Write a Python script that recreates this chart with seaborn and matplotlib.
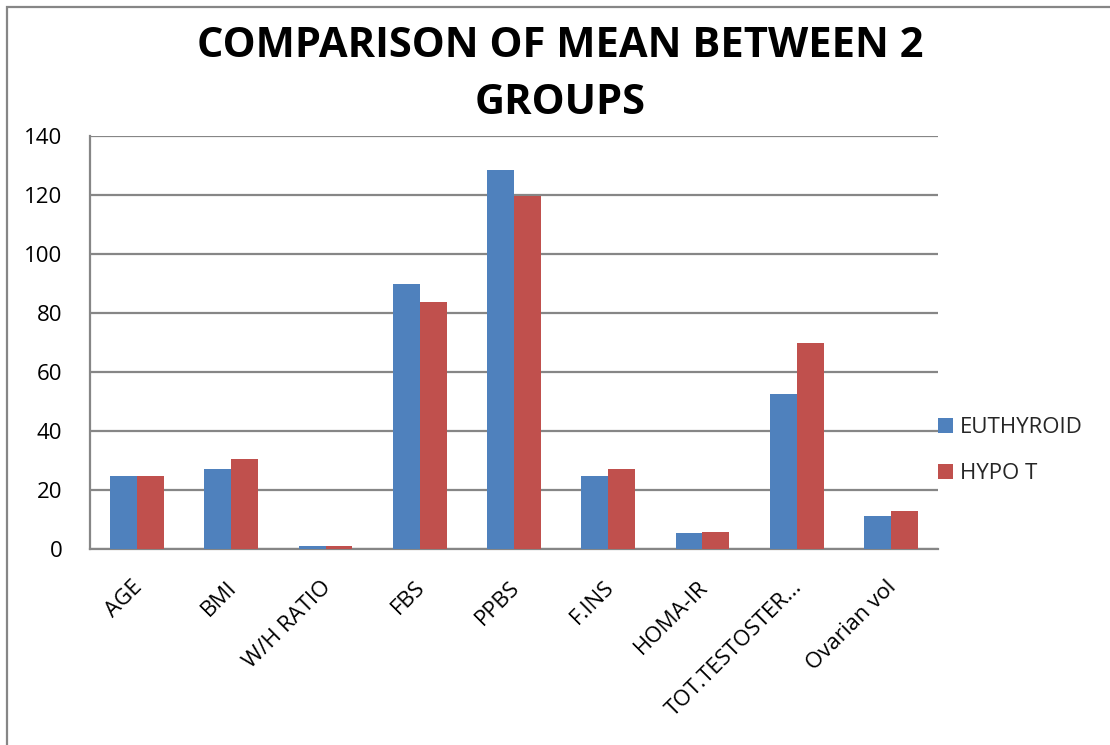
import matplotlib
matplotlib.use("Agg")
import matplotlib.pyplot as plt
import matplotlib.patches as mpatches
import matplotlib.transforms as mtransforms
import seaborn as sns
import pandas as pd

categories = ["AGE", "BMI", "W/H RATIO", "FBS", "PPBS", "F.INS", "HOMA-IR",
              "TOT.TESTOSTER...", "Ovarian vol"]
euthyroid = [24.7, 27.0, 0.85, 89.7, 128.4, 24.7, 5.5, 52.7, 11.2]
hypo_t = [24.7, 30.6, 0.88, 83.6, 119.6, 27.0, 5.7, 69.8, 12.8]
series_names = ["EUTHYROID", "HYPO T"]
y_ticks = [0, 20, 40, 60, 80, 100, 120, 140]

df = pd.DataFrame({
    "category": categories * 2,
    "value": euthyroid + hypo_t,
    "group": [series_names[0]] * len(categories) + [series_names[1]] * len(categories),
})

sns.set_theme(style="white")
plt.rcParams["font.family"] = ["Open Sans", "DejaVu Sans"]

fig = plt.figure(figsize=(11.1, 7.45), dpi=100)
ax = fig.add_axes([90 / 1110, 1 - 549 / 745, (938 - 90) / 1110, (549 - 136) / 745])

sns.barplot(data=df, x="category", y="value", hue="group", order=categories,
            hue_order=series_names, palette=["#4F81BD", "#C0504D"],
            width=0.57, saturation=1, linewidth=0, ax=ax, legend=True, zorder=3)

ax.set_ylim(0, 140)
ax.set_yticks(y_ticks)
ax.set_xlim(-0.5, len(categories) - 0.5)
ax.grid(axis="y", color="#868686", linewidth=1.6, zorder=0)
ax.set_axisbelow(True)
for side in ["top", "right"]:
    ax.spines[side].set_visible(False)
for side in ["left", "bottom"]:
    ax.spines[side].set_color("#868686")
    ax.spines[side].set_linewidth(1.6)
ax.set_xlabel("")
ax.set_ylabel("")
ax.tick_params(axis="y", labelsize=16, length=0, pad=20, labelcolor="black")
ax.tick_params(axis="x", labelsize=16, length=0, pad=20, labelcolor="black")

# nudge the rotated category labels slightly to the left
shift = mtransforms.ScaledTranslation(-5 / 100, 0, fig.dpi_scale_trans)
for lbl in ax.get_xticklabels():
    lbl.set_rotation(45)
    lbl.set_ha("right")
    lbl.set_rotation_mode("anchor")
    lbl.set_transform(lbl.get_transform() + shift)

handles, labels = ax.get_legend_handles_labels()
ax.legend(handles, labels, loc="center left", bbox_to_anchor=(1.0, 0.238),
          frameon=False, fontsize=16, handlelength=0.68, handleheight=0.68,
          handletextpad=0.3, labelspacing=1.15, borderaxespad=0.0,
          borderpad=0.0)

fig.text(560 / 1110, 1 - 75 / 745, "COMPARISON OF MEAN BETWEEN 2\nGROUPS",
         ha="center", va="center", fontsize=30, fontweight="bold",
         linespacing=1.5, color="black")

border = mpatches.Rectangle((7 / 1110, -0.05), 1.1, 1 - 7 / 745 + 0.05,
                            transform=fig.transFigure, fill=False,
                            edgecolor="#868686", linewidth=1.6)
fig.patches.append(border)

fig.savefig("out.png", dpi=100, facecolor="white")
